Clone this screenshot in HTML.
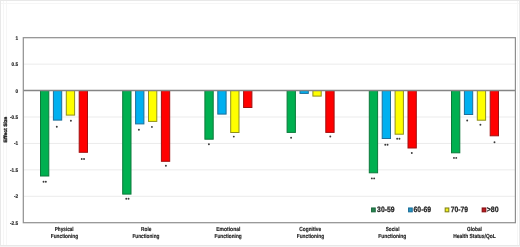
<!DOCTYPE html>
<html><head><meta charset="utf-8"><style>
html,body{margin:0;padding:0;background:#fff;}
body{width:520px;height:247px;overflow:hidden;}
svg{display:block;}
text{font-family:"Liberation Sans",sans-serif;font-weight:bold;fill:#222;text-rendering:geometricPrecision;}
.yt{font-size:5.4px;text-anchor:end;stroke:#222;stroke-width:0.15px;}
.yl{font-size:4.8px;text-anchor:middle;stroke:#222;stroke-width:0.35px;}
.xl{font-size:5.9px;text-anchor:middle;stroke:#222;stroke-width:0.15px;}
.lg{font-size:7.8px;fill:#1e1e1e;stroke:#1e1e1e;stroke-width:0.25px;}
.sd{fill:#3a3a3a;}
</style></head><body>
<svg style="transform:translateZ(0)" width="520" height="247" viewBox="0 0 520 247">
<rect x="0" y="245" width="520" height="2" fill="#f3f3f3"/>
<path d="M3.5 1V245M6.5 1V245M1 3.5H519M517.5 1V245" stroke="#f6f6f6" stroke-width="1" fill="none"/>
<rect x="0.5" y="0.5" width="519" height="245" fill="none" stroke="#e8e8e8" stroke-width="1"/>
<line x1="23.3" y1="64.13" x2="515.4" y2="64.13" stroke="#ebebeb" stroke-width="1"/>
<line x1="23.3" y1="116.99" x2="515.4" y2="116.99" stroke="#ebebeb" stroke-width="1"/>
<line x1="23.3" y1="143.42" x2="515.4" y2="143.42" stroke="#ebebeb" stroke-width="1"/>
<line x1="23.3" y1="169.85" x2="515.4" y2="169.85" stroke="#ebebeb" stroke-width="1"/>
<line x1="23.3" y1="196.28" x2="515.4" y2="196.28" stroke="#ebebeb" stroke-width="1"/>
<rect x="40.50" y="90.56" width="8.30" height="85.44" fill="#00b050" stroke="#0b7a3b" stroke-width="1"/>
<circle cx="43.55" cy="181.80" r="0.95" class="sd"/>
<circle cx="45.85" cy="181.80" r="0.95" class="sd"/>
<rect x="53.40" y="90.56" width="8.30" height="29.54" fill="#00b0f0" stroke="#1d6e99" stroke-width="1"/>
<circle cx="56.80" cy="126.70" r="0.95" class="sd"/>
<rect x="66.30" y="90.56" width="8.30" height="24.54" fill="#ffff00" stroke="#8f8f1c" stroke-width="1"/>
<circle cx="70.90" cy="120.80" r="0.95" class="sd"/>
<rect x="79.20" y="90.56" width="8.30" height="61.74" fill="#ff0000" stroke="#a01010" stroke-width="1"/>
<circle cx="81.75" cy="159.00" r="0.95" class="sd"/>
<circle cx="84.05" cy="159.00" r="0.95" class="sd"/>
<rect x="122.70" y="90.56" width="8.30" height="103.54" fill="#00b050" stroke="#0b7a3b" stroke-width="1"/>
<circle cx="126.25" cy="198.80" r="0.95" class="sd"/>
<circle cx="128.55" cy="198.80" r="0.95" class="sd"/>
<rect x="135.60" y="90.56" width="8.30" height="33.34" fill="#00b0f0" stroke="#1d6e99" stroke-width="1"/>
<circle cx="138.90" cy="129.80" r="0.95" class="sd"/>
<rect x="148.50" y="90.56" width="8.30" height="30.84" fill="#ffff00" stroke="#8f8f1c" stroke-width="1"/>
<circle cx="151.90" cy="126.90" r="0.95" class="sd"/>
<rect x="161.40" y="90.56" width="8.30" height="70.74" fill="#ff0000" stroke="#a01010" stroke-width="1"/>
<circle cx="165.90" cy="165.80" r="0.95" class="sd"/>
<rect x="204.90" y="90.56" width="8.30" height="48.64" fill="#00b050" stroke="#0b7a3b" stroke-width="1"/>
<circle cx="208.90" cy="144.30" r="0.95" class="sd"/>
<rect x="217.80" y="90.56" width="8.30" height="23.54" fill="#00b0f0" stroke="#1d6e99" stroke-width="1"/>
<rect x="230.70" y="90.56" width="8.30" height="41.94" fill="#ffff00" stroke="#8f8f1c" stroke-width="1"/>
<circle cx="233.80" cy="136.60" r="0.95" class="sd"/>
<rect x="243.60" y="90.56" width="8.30" height="16.94" fill="#ff0000" stroke="#a01010" stroke-width="1"/>
<rect x="287.10" y="90.56" width="8.30" height="41.84" fill="#00b050" stroke="#0b7a3b" stroke-width="1"/>
<circle cx="291.10" cy="137.80" r="0.95" class="sd"/>
<rect x="300.00" y="90.56" width="8.30" height="2.84" fill="#00b0f0" stroke="#1d6e99" stroke-width="1"/>
<rect x="312.90" y="90.56" width="8.30" height="5.54" fill="#ffff00" stroke="#8f8f1c" stroke-width="1"/>
<rect x="325.80" y="90.56" width="8.30" height="41.84" fill="#ff0000" stroke="#a01010" stroke-width="1"/>
<circle cx="330.30" cy="136.50" r="0.95" class="sd"/>
<rect x="369.30" y="90.56" width="8.30" height="82.24" fill="#00b050" stroke="#0b7a3b" stroke-width="1"/>
<circle cx="371.85" cy="178.40" r="0.95" class="sd"/>
<circle cx="374.15" cy="178.40" r="0.95" class="sd"/>
<rect x="382.20" y="90.56" width="8.30" height="47.94" fill="#00b0f0" stroke="#1d6e99" stroke-width="1"/>
<circle cx="385.25" cy="144.70" r="0.95" class="sd"/>
<circle cx="387.55" cy="144.70" r="0.95" class="sd"/>
<rect x="395.10" y="90.56" width="8.30" height="43.64" fill="#ffff00" stroke="#8f8f1c" stroke-width="1"/>
<circle cx="397.15" cy="138.80" r="0.95" class="sd"/>
<circle cx="399.45" cy="138.80" r="0.95" class="sd"/>
<rect x="408.00" y="90.56" width="8.30" height="57.44" fill="#ff0000" stroke="#a01010" stroke-width="1"/>
<circle cx="411.80" cy="153.00" r="0.95" class="sd"/>
<rect x="451.50" y="90.56" width="8.30" height="62.24" fill="#00b050" stroke="#0b7a3b" stroke-width="1"/>
<circle cx="453.95" cy="157.90" r="0.95" class="sd"/>
<circle cx="456.25" cy="157.90" r="0.95" class="sd"/>
<rect x="464.40" y="90.56" width="8.30" height="23.94" fill="#00b0f0" stroke="#1d6e99" stroke-width="1"/>
<circle cx="467.20" cy="120.50" r="0.95" class="sd"/>
<rect x="477.30" y="90.56" width="8.30" height="29.64" fill="#ffff00" stroke="#8f8f1c" stroke-width="1"/>
<circle cx="480.40" cy="124.80" r="0.95" class="sd"/>
<rect x="490.20" y="90.56" width="8.30" height="45.24" fill="#ff0000" stroke="#a01010" stroke-width="1"/>
<circle cx="494.50" cy="142.30" r="0.95" class="sd"/>
<line x1="23.3" y1="90.56" x2="515.4" y2="90.56" stroke="#858585" stroke-width="1.6"/>
<rect x="23.30" y="37.70" width="492.10" height="185.01" fill="none" stroke="#8e8e8e" stroke-width="1.2"/>
<text transform="translate(18.1,39.70) scale(0.88,1)" class="yt">1</text>
<text transform="translate(18.1,66.13) scale(0.88,1)" class="yt">0.5</text>
<text transform="translate(18.1,92.56) scale(0.88,1)" class="yt">0</text>
<text transform="translate(18.1,118.99) scale(0.88,1)" class="yt">-0.5</text>
<text transform="translate(18.1,145.42) scale(0.88,1)" class="yt">-1</text>
<text transform="translate(18.1,171.85) scale(0.88,1)" class="yt">-1.5</text>
<text transform="translate(18.1,198.28) scale(0.88,1)" class="yt">-2</text>
<text transform="translate(18.1,224.71) scale(0.88,1)" class="yt">-2.5</text>
<text transform="translate(7.2,129.5) rotate(-90)" class="yl" textLength="25.8" lengthAdjust="spacingAndGlyphs">Effect Size</text>
<text x="64.20" y="231.3" class="xl" textLength="18.90" lengthAdjust="spacingAndGlyphs">Physical</text>
<text x="64.40" y="238.2" class="xl" textLength="27.30" lengthAdjust="spacingAndGlyphs">Functioning</text>
<text x="146.20" y="231.3" class="xl" textLength="10.30" lengthAdjust="spacingAndGlyphs">Role</text>
<text x="145.95" y="238.2" class="xl" textLength="27.00" lengthAdjust="spacingAndGlyphs">Functioning</text>
<text x="228.30" y="231.3" class="xl" textLength="24.10" lengthAdjust="spacingAndGlyphs">Emotional</text>
<text x="228.15" y="238.2" class="xl" textLength="27.20" lengthAdjust="spacingAndGlyphs">Functioning</text>
<text x="310.25" y="231.3" class="xl" textLength="21.80" lengthAdjust="spacingAndGlyphs">Cognitive</text>
<text x="310.40" y="238.2" class="xl" textLength="27.30" lengthAdjust="spacingAndGlyphs">Functioning</text>
<text x="392.60" y="231.3" class="xl" textLength="13.70" lengthAdjust="spacingAndGlyphs">Social</text>
<text x="392.30" y="238.2" class="xl" textLength="28.10" lengthAdjust="spacingAndGlyphs">Functioning</text>
<text x="474.50" y="231.3" class="xl" textLength="14.90" lengthAdjust="spacingAndGlyphs">Global</text>
<text x="474.50" y="238.2" class="xl" textLength="42.50" lengthAdjust="spacingAndGlyphs">Health Status/QoL</text>
<rect x="371.60" y="208.0" width="3.6" height="3.8" fill="#2a8550" stroke="#1b6a3e" stroke-width="1.1"/>
<text x="377.10" y="212.3" class="lg" textLength="17.40" lengthAdjust="spacingAndGlyphs">30-59</text>
<rect x="408.60" y="208.0" width="3.6" height="3.8" fill="#2599c6" stroke="#1d6e99" stroke-width="1.1"/>
<text x="413.50" y="212.3" class="lg" textLength="17.60" lengthAdjust="spacingAndGlyphs">60-69</text>
<rect x="445.20" y="208.0" width="3.6" height="3.8" fill="#f0f020" stroke="#85851a" stroke-width="1.1"/>
<text x="450.70" y="212.3" class="lg" textLength="17.30" lengthAdjust="spacingAndGlyphs">70-79</text>
<rect x="482.20" y="208.0" width="3.6" height="3.8" fill="#bc1a1f" stroke="#850c10" stroke-width="1.1"/>
<text x="486.70" y="212.3" class="lg" textLength="11.90" lengthAdjust="spacingAndGlyphs">>80</text>
</svg>
</body></html>
